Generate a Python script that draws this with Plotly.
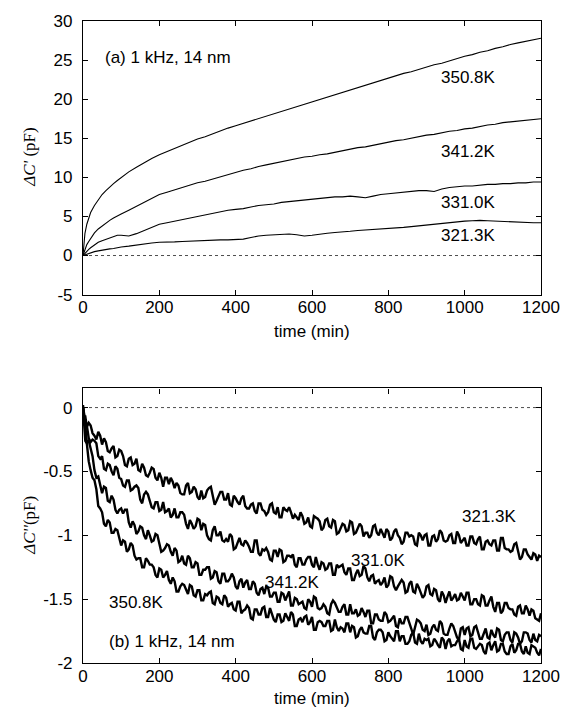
import plotly.graph_objects as go

# ---------------- data ----------------
time_a = [0, 5, 10, 15, 20, 30, 40, 50, 60, 70, 80, 90, 100] + list(range(120, 1201, 20))
time_b = [0, 3, 6] + list(range(10, 1201, 10))
time_b_mid = list(range(15, 1200, 10))

labels = ["350.8K", "341.2K", "331.0K", "321.3K"]

dC1_350 = [0, 2.8, 4.0, 4.9, 5.5, 6.4, 7.1, 7.8, 8.3, 8.8, 9.2, 9.6, 10.0,
           10.7, 11.3, 11.9, 12.4, 12.9, 13.3, 13.8, 14.1, 14.5, 14.9,
           15.2, 15.6, 15.9, 16.3, 16.6, 16.9, 17.3, 17.6, 17.9, 18.2,
           18.5, 18.8, 19.1, 19.4, 19.7, 20.0, 20.3, 20.6, 20.9, 21.2,
           21.5, 21.8, 22.1, 22.4, 22.7, 23.0, 23.3, 23.5, 23.8, 24.1,
           24.4, 24.6, 24.9, 25.2, 25.5, 25.7, 26.0, 26.2, 26.5, 26.7,
           27.0, 27.2, 27.4, 27.6, 27.8]
dC1_341 = [0, 0.8, 1.4, 1.8, 2.2, 2.9, 3.4, 3.8, 4.2, 4.5, 4.8, 5.0, 5.3,
           5.8, 6.3, 6.8, 7.3, 7.8, 8.1, 8.4, 8.7, 9.0, 9.3,
           9.5, 9.8, 10.1, 10.4, 10.7, 10.9, 11.1, 11.4, 11.6, 11.8,
           12.0, 12.2, 12.4, 12.6, 12.7, 12.9, 13.0, 13.2, 13.4, 13.6,
           13.8, 13.9, 14.1, 14.3, 14.5, 14.7, 14.8, 15.0, 15.2, 15.4,
           15.5, 15.7, 15.9, 16.0, 16.2, 16.3, 16.5, 16.7, 16.8, 17.0,
           17.1, 17.2, 17.3, 17.4, 17.5]
dC1_331 = [0, 0.3, 0.6, 0.8, 1.0, 1.4, 1.7, 1.9, 2.1, 2.3, 2.5, 2.6, 2.6,
           2.5, 2.8, 3.2, 3.6, 4.0, 4.2, 4.4, 4.6, 4.8, 5.0,
           5.2, 5.4, 5.6, 5.8, 5.9, 6.0, 6.2, 6.4, 6.5, 6.6,
           6.8, 6.9, 7.0, 7.1, 7.2, 7.3, 7.4, 7.5, 7.5, 7.6,
           7.5, 7.4, 7.6, 7.8, 7.9, 8.0, 8.1, 8.2, 8.3, 8.3,
           8.2, 8.5, 8.7, 8.8, 8.9, 8.9, 9.0, 9.1, 9.1, 9.2,
           9.2, 9.3, 9.3, 9.4, 9.4]
dC1_321 = [0, 0.1, 0.2, 0.3, 0.4, 0.5, 0.6, 0.7, 0.8, 0.85, 0.9, 1.0, 1.1,
           1.2, 1.35, 1.5, 1.6, 1.7, 1.7, 1.75, 1.8, 1.85, 1.9,
           1.95, 2.0, 2.0, 2.0, 2.05, 2.1, 2.3, 2.5, 2.6, 2.65,
           2.7, 2.75, 2.65, 2.5, 2.6, 2.75, 2.85, 2.95, 3.0, 3.1,
           3.2, 3.25, 3.3, 3.4, 3.45, 3.5, 3.6, 3.7, 3.8, 3.9,
           4.0, 4.15, 4.25, 4.35, 4.4, 4.45, 4.5, 4.45, 4.4, 4.4,
           4.35, 4.3, 4.25, 4.2, 4.2]

# bottom panel, values at time_b
dC2_321 = [0.02, -0.07, -0.07, -0.15, -0.14, -0.22, -0.19, -0.29, -0.27, -0.35,
           -0.30, -0.38, -0.34, -0.45, -0.40, -0.45, -0.40, -0.50, -0.47, -0.54,
           -0.47, -0.55, -0.51, -0.62, -0.55, -0.55, -0.63, -0.61, -0.68, -0.61,
           -0.67, -0.62, -0.70, -0.65, -0.70, -0.63, -0.69, -0.73, -0.66, -0.72,
           -0.67, -0.77, -0.71, -0.76, -0.69, -0.79, -0.76, -0.81, -0.75, -0.80,
           -0.84, -0.76, -0.82, -0.78, -0.86, -0.80, -0.78, -0.87, -0.86, -0.82,
           -0.91, -0.86, -0.94, -0.86, -0.89, -0.94, -0.87, -0.94, -0.89, -0.98,
           -0.91, -0.97, -0.89, -0.99, -0.94, -0.93, -0.98, -1.02, -0.93, -0.98,
           -0.95, -1.02, -0.97, -1.02, -0.95, -1.02, -1.05, -0.98, -1.00, -1.07,
           -0.98, -1.04, -0.99, -1.08, -1.00, -1.03, -0.98, -1.05, -1.00, -1.06,
           -0.97, -1.06, -1.02, -1.08, -1.01, -1.07, -1.01, -1.11, -1.04, -1.08,
           -1.04, -1.12, -1.02, -1.11, -1.13, -1.07, -1.13, -1.17, -1.11, -1.17,
           -1.14, -1.20, -1.17]
dC2_331 = [0.00, -0.05, -0.14, -0.14, -0.27, -0.26, -0.38, -0.38, -0.49, -0.45,
           -0.53, -0.48, -0.56, -0.62, -0.57, -0.64, -0.61, -0.72, -0.68, -0.68,
           -0.78, -0.74, -0.81, -0.74, -0.81, -0.86, -0.79, -0.86, -0.82, -0.91,
           -0.88, -0.95, -0.87, -0.96, -0.92, -1.03, -0.96, -1.00, -0.97, -1.05,
           -1.05, -1.01, -1.10, -1.02, -1.08, -1.06, -1.13, -1.04, -1.14, -1.11,
           -1.10, -1.19, -1.12, -1.17, -1.12, -1.20, -1.16, -1.15, -1.25, -1.18,
           -1.23, -1.17, -1.23, -1.17, -1.27, -1.22, -1.26, -1.22, -1.31, -1.25,
           -1.23, -1.31, -1.26, -1.35, -1.27, -1.31, -1.26, -1.36, -1.31, -1.36,
           -1.39, -1.33, -1.39, -1.33, -1.43, -1.38, -1.37, -1.44, -1.36, -1.45,
           -1.41, -1.49, -1.40, -1.46, -1.42, -1.50, -1.44, -1.53, -1.44, -1.49,
           -1.51, -1.45, -1.51, -1.45, -1.54, -1.50, -1.55, -1.48, -1.55, -1.48,
           -1.60, -1.53, -1.59, -1.53, -1.58, -1.62, -1.56, -1.61, -1.55, -1.63,
           -1.59, -1.66, -1.61]
dC2_341 = [0.00, -0.13, -0.14, -0.27, -0.31, -0.49, -0.54, -0.67, -0.63, -0.74,
           -0.72, -0.83, -0.79, -0.80, -0.90, -0.89, -0.99, -0.93, -1.00, -0.96,
           -1.05, -0.99, -1.08, -1.12, -1.07, -1.13, -1.10, -1.21, -1.16, -1.23,
           -1.18, -1.25, -1.22, -1.31, -1.27, -1.25, -1.33, -1.29, -1.38, -1.30,
           -1.36, -1.30, -1.40, -1.36, -1.41, -1.35, -1.42, -1.38, -1.47, -1.41,
           -1.40, -1.48, -1.45, -1.52, -1.45, -1.51, -1.44, -1.55, -1.50, -1.53,
           -1.57, -1.50, -1.56, -1.49, -1.58, -1.54, -1.61, -1.54, -1.53, -1.60,
           -1.56, -1.62, -1.54, -1.61, -1.63, -1.57, -1.64, -1.59, -1.69, -1.62,
           -1.67, -1.60, -1.68, -1.65, -1.71, -1.65, -1.69, -1.64, -1.73, -1.72,
           -1.67, -1.74, -1.70, -1.77, -1.70, -1.75, -1.69, -1.78, -1.73, -1.71,
           -1.80, -1.73, -1.78, -1.72, -1.78, -1.71, -1.81, -1.76, -1.80, -1.74,
           -1.80, -1.74, -1.83, -1.76, -1.82, -1.76, -1.80, -1.83, -1.76, -1.82,
           -1.77, -1.83, -1.79]
dC2_350 = [0.00, -0.12, -0.26, -0.28, -0.49, -0.57, -0.77, -0.82, -0.93, -0.90,
           -0.98, -0.96, -1.08, -1.05, -1.11, -1.08, -1.19, -1.18, -1.25, -1.20,
           -1.23, -1.31, -1.26, -1.33, -1.28, -1.38, -1.36, -1.44, -1.38, -1.43,
           -1.39, -1.47, -1.43, -1.51, -1.46, -1.45, -1.53, -1.48, -1.53, -1.47,
           -1.56, -1.53, -1.59, -1.52, -1.59, -1.55, -1.65, -1.58, -1.62, -1.57,
           -1.64, -1.57, -1.66, -1.62, -1.68, -1.61, -1.67, -1.62, -1.71, -1.65,
           -1.64, -1.70, -1.64, -1.74, -1.67, -1.71, -1.67, -1.75, -1.66, -1.75,
           -1.73, -1.69, -1.76, -1.72, -1.79, -1.72, -1.77, -1.71, -1.80, -1.76,
           -1.74, -1.83, -1.76, -1.81, -1.75, -1.83, -1.79, -1.85, -1.78, -1.84,
           -1.77, -1.85, -1.82, -1.87, -1.81, -1.86, -1.80, -1.89, -1.81, -1.86,
           -1.83, -1.89, -1.82, -1.88, -1.81, -1.89, -1.85, -1.91, -1.85, -1.90,
           -1.83, -1.90, -1.85, -1.93, -1.87, -1.92, -1.85, -1.91, -1.87, -1.93,
           -1.87, -1.92, -1.89]

# bottom panel, values at time_b_mid (15, 25, ..., 1195)
dC2_321_mid = [-0.12, -0.20, -0.25, -0.22, -0.24, -0.34, -0.32, -0.39, -0.33, -0.38,
               -0.46, -0.39, -0.44, -0.49, -0.44, -0.53, -0.51, -0.48, -0.57, -0.55,
               -0.55, -0.60, -0.58, -0.59, -0.67, -0.68, -0.59, -0.66, -0.64, -0.72,
               -0.71, -0.65, -0.62, -0.76, -0.69, -0.66, -0.72, -0.76, -0.69, -0.74,
               -0.71, -0.77, -0.79, -0.75, -0.83, -0.75, -0.81, -0.82, -0.75, -0.83,
               -0.86, -0.78, -0.81, -0.82, -0.84, -0.88, -0.85, -0.90, -0.93, -0.85,
               -0.87, -0.96, -0.88, -0.93, -0.88, -0.99, -0.95, -0.92, -0.96, -0.90,
               -0.98, -0.91, -1.01, -0.98, -1.00, -0.92, -1.00, -0.98, -0.95, -1.04,
               -0.97, -1.00, -1.07, -0.98, -1.01, -1.01, -1.08, -1.00, -1.00, -1.08,
               -1.01, -1.05, -0.96, -1.04, -1.04, -0.99, -1.06, -1.00, -1.04, -1.08,
               -1.01, -1.06, -1.03, -1.11, -1.05, -1.07, -1.04, -1.12, -1.02, -1.10,
               -1.11, -1.12, -1.06, -1.19, -1.11, -1.15, -1.19, -1.15, -1.16]
dC2_331_mid = [-0.24, -0.25, -0.28, -0.40, -0.48, -0.44, -0.50, -0.46, -0.55, -0.61,
               -0.57, -0.65, -0.62, -0.63, -0.75, -0.66, -0.73, -0.79, -0.74, -0.80,
               -0.82, -0.79, -0.84, -0.86, -0.82, -0.84, -0.95, -0.91, -0.93, -0.88,
               -0.91, -1.00, -1.04, -0.93, -1.00, -1.04, -1.03, -0.99, -1.11, -1.06,
               -1.07, -1.04, -1.09, -1.13, -1.04, -1.16, -1.12, -1.13, -1.20, -1.12,
               -1.11, -1.21, -1.16, -1.17, -1.23, -1.18, -1.23, -1.19, -1.17, -1.25,
               -1.23, -1.21, -1.27, -1.22, -1.31, -1.23, -1.24, -1.29, -1.26, -1.35,
               -1.30, -1.32, -1.24, -1.33, -1.32, -1.38, -1.35, -1.37, -1.41, -1.32,
               -1.40, -1.40, -1.35, -1.45, -1.38, -1.44, -1.38, -1.46, -1.47, -1.39,
               -1.47, -1.43, -1.52, -1.47, -1.48, -1.51, -1.46, -1.50, -1.48, -1.45,
               -1.54, -1.50, -1.54, -1.47, -1.55, -1.51, -1.56, -1.53, -1.61, -1.53,
               -1.57, -1.58, -1.63, -1.55, -1.61, -1.58, -1.58, -1.65, -1.67]
dC2_341_mid = [-0.26, -0.38, -0.55, -0.62, -0.62, -0.73, -0.69, -0.80, -0.80, -0.83,
               -0.80, -0.94, -0.92, -0.97, -0.94, -1.03, -1.00, -1.04, -1.00, -1.13,
               -1.10, -1.08, -1.16, -1.12, -1.20, -1.22, -1.16, -1.25, -1.21, -1.31,
               -1.27, -1.25, -1.34, -1.28, -1.36, -1.30, -1.36, -1.34, -1.33, -1.42,
               -1.34, -1.37, -1.42, -1.36, -1.45, -1.42, -1.46, -1.41, -1.48, -1.45,
               -1.52, -1.46, -1.48, -1.55, -1.49, -1.54, -1.52, -1.58, -1.52, -1.48,
               -1.57, -1.57, -1.56, -1.62, -1.51, -1.56, -1.60, -1.54, -1.62, -1.61,
               -1.58, -1.62, -1.60, -1.59, -1.69, -1.62, -1.66, -1.67, -1.62, -1.67,
               -1.63, -1.72, -1.69, -1.64, -1.68, -1.78, -1.66, -1.69, -1.75, -1.78,
               -1.72, -1.74, -1.67, -1.77, -1.78, -1.69, -1.75, -1.82, -1.72, -1.73,
               -1.79, -1.72, -1.76, -1.81, -1.73, -1.81, -1.78, -1.73, -1.82, -1.78,
               -1.76, -1.84, -1.77, -1.85, -1.76, -1.77, -1.84, -1.82, -1.78]
dC2_350_mid = [-0.42, -0.55, -0.64, -0.79, -0.91, -0.88, -0.98, -0.95, -1.03, -1.04,
               -1.13, -1.06, -1.16, -1.18, -1.25, -1.18, -1.23, -1.25, -1.33, -1.27,
               -1.31, -1.35, -1.33, -1.44, -1.40, -1.39, -1.46, -1.40, -1.48, -1.43,
               -1.51, -1.47, -1.44, -1.54, -1.49, -1.54, -1.49, -1.54, -1.58, -1.52,
               -1.61, -1.58, -1.57, -1.66, -1.58, -1.62, -1.56, -1.64, -1.61, -1.68,
               -1.62, -1.67, -1.64, -1.60, -1.71, -1.66, -1.68, -1.63, -1.68, -1.74,
               -1.68, -1.68, -1.71, -1.67, -1.74, -1.72, -1.72, -1.76, -1.69, -1.71,
               -1.80, -1.74, -1.76, -1.77, -1.71, -1.82, -1.74, -1.76, -1.82, -1.79,
               -1.83, -1.75, -1.79, -1.85, -1.83, -1.76, -1.85, -1.83, -1.81, -1.81,
               -1.86, -1.83, -1.88, -1.82, -1.83, -1.87, -1.86, -1.81, -1.90, -1.87,
               -1.81, -1.88, -1.87, -1.86, -1.93, -1.84, -1.86, -1.91, -1.85, -1.91,
               -1.93, -1.85, -1.90, -1.85, -1.93, -1.92, -1.86, -1.88, -1.94]

x_ticks = [0, 200, 400, 600, 800, 1000, 1200]
ya_ticks = [-5, 0, 5, 10, 15, 20, 25, 30]
ya_text = ["-5", "0", "5", "10", "15", "20", "25", "30"]
yb_ticks = [-2, -1.5, -1, -0.5, 0]
yb_text = ["-2", "-1.5", "-1", "-0.5", "0"]

top_series = [dC1_350, dC1_341, dC1_331, dC1_321]
bot_series = [(dC2_350, dC2_350_mid), (dC2_341, dC2_341_mid),
              (dC2_331, dC2_331_mid), (dC2_321, dC2_321_mid)]


def merge(t1, v1, t2, v2):
    pairs = sorted(zip(list(t1) + list(t2), list(v1) + list(v2)))
    return [p[0] for p in pairs], [p[1] for p in pairs]


# ---------------- figure ----------------
SANS = "Liberation Sans, Arial, Helvetica, sans-serif"
SERIF = "Liberation Serif, Times New Roman, serif"
FS = 17

fig = go.Figure()
for name, ys in zip(labels, top_series):
    fig.add_trace(go.Scatter(x=time_a, y=ys, mode="lines", name=name,
                             line=dict(color="black", width=1.1),
                             xaxis="x", yaxis="y", showlegend=False))
for name, (ys, ym) in zip(labels, bot_series):
    tx, vy = merge(time_b, ys, time_b_mid, ym)
    fig.add_trace(go.Scatter(x=tx, y=vy, mode="lines", name=name,
                             line=dict(color="black", width=2.4),
                             xaxis="x2", yaxis="y2", showlegend=False))

axis_common = dict(showline=True, linecolor="black", linewidth=1.2,
                   mirror="ticks", ticks="inside", ticklen=5, tickwidth=1,
                   tickcolor="black", showgrid=False, zeroline=False,
                   tickfont=dict(family=SANS, size=FS, color="black"))

fig.update_layout(
    width=575, height=712,
    margin=dict(l=83, r=34, t=13, b=49),
    paper_bgcolor="white", plot_bgcolor="white",
    xaxis=dict(domain=[0, 1], anchor="y", range=[0, 1200],
               tickvals=x_ticks, ticklabelstandoff=-3, **axis_common),
    yaxis=dict(domain=[0.5738, 1], anchor="x", range=[-5, 30],
               tickvals=ya_ticks, ticktext=ya_text, ticklabelstandoff=6,
               **axis_common),
    xaxis2=dict(domain=[0, 1], anchor="y2", range=[0, 1200],
                tickvals=x_ticks, ticklabelstandoff=-3, **axis_common),
    yaxis2=dict(domain=[0, 0.4277], anchor="x2", range=[-2, 0.15],
                tickvals=yb_ticks, ticktext=yb_text, ticklabelstandoff=6,
                **axis_common),
)

# dotted zero reference lines
fig.add_hline(y=0, line=dict(color="black", width=0.7, dash="dot"), xref="x", yref="y")
fig.add_hline(y=0, line=dict(color="black", width=0.7, dash="dot"), xref="x2", yref="y2")

# axis titles
title_font = dict(family=SANS, size=FS, color="black")
fig.add_annotation(text="time (min)", xref="paper", yref="paper", x=0.5, y=0.5169,
                   showarrow=False, xanchor="center", yanchor="middle", font=title_font)
fig.add_annotation(text="time (min)", xref="paper", yref="paper", x=0.5, y=-0.0554,
                   showarrow=False, xanchor="center", yanchor="middle", font=title_font)
ytitle_font = dict(family=SERIF, size=FS, color="black")
fig.add_annotation(text="<i>ΔC'</i> (pF)", xref="paper", yref="paper", x=-0.1157,
                   y=(0.5738 + 1) / 2, textangle=-90, showarrow=False,
                   xanchor="center", yanchor="middle", font=ytitle_font)
fig.add_annotation(text="<i>ΔC''</i>(pF)", xref="paper", yref="paper", x=-0.1157,
                   y=0.4277 / 2, textangle=-90, showarrow=False,
                   xanchor="center", yanchor="middle", font=ytitle_font)

lab_font = dict(family=SANS, size=FS, color="black")
top_labels = [("(a) 1 kHz, 14 nm", 52, 25.3, "left"),
              ("350.8K", 1009, 22.8, "center"),
              ("341.2K", 1009, 13.3, "center"),
              ("331.0K", 1009, 6.75, "center"),
              ("321.3K", 1009, 2.6, "center")]
for txt, x, y, xa in top_labels:
    fig.add_annotation(text=txt, x=x, y=y, xref="x", yref="y", showarrow=False,
                       xanchor=xa, yanchor="middle", font=lab_font)
bot_labels = [("(b) 1 kHz, 14 nm", 63, -1.83, "left"),
              ("350.8K", 141, -1.53, "center"),
              ("341.2K", 548, -1.37, "center"),
              ("331.0K", 774, -1.20, "center"),
              ("321.3K", 1066, -0.85, "center")]
for txt, x, y, xa in bot_labels:
    fig.add_annotation(text=txt, x=x, y=y, xref="x2", yref="y2", showarrow=False,
                       xanchor=xa, yanchor="middle", font=lab_font)

fig.write_html("out.html")
